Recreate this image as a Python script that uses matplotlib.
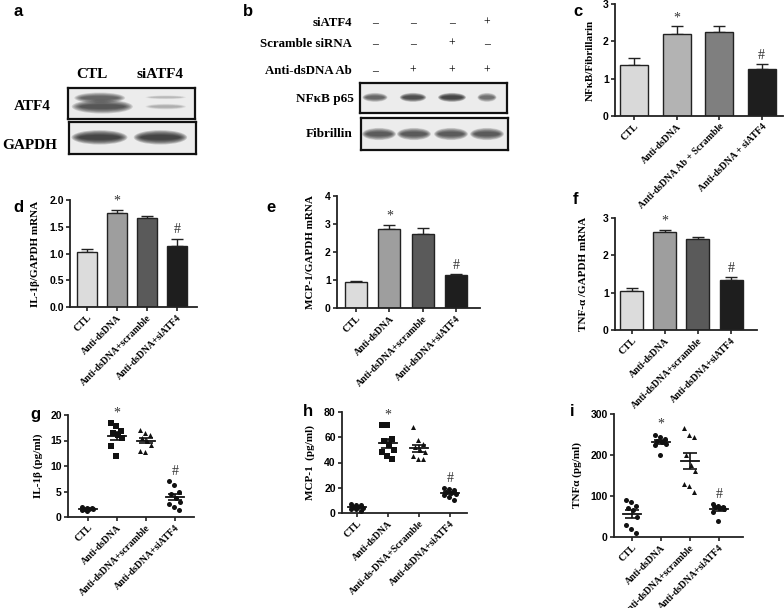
import numpy as np
import matplotlib
matplotlib.use("Agg")
import matplotlib.pyplot as plt
from matplotlib.patches import Ellipse

W, H = 784, 608

# ---- data ----
groups_c = ["CTL", "Anti-dsDNA", "Anti-dsDNA Ab + Scramble", "Anti-dsDNA + siATF4"]
groups = ["CTL", "Anti-dsDNA", "Anti-dsDNA+scramble", "Anti-dsDNA+siATF4"]
groups_h = ["CTL", "Anti-dsDNA", "Anti-ds-DNA+Scramble", "Anti-dsDNA+siATF4"]

nfkb_mean = [1.37, 2.20, 2.25, 1.25]
nfkb_err = [0.19, 0.20, 0.17, 0.14]
il1b_mrna = [1.02, 1.75, 1.66, 1.14]
il1b_mrna_err = [0.07, 0.06, 0.05, 0.14]
mcp1_mrna = [0.93, 2.82, 2.65, 1.18]
mcp1_mrna_err = [0.02, 0.15, 0.20, 0.04]
tnf_mrna = [1.05, 2.62, 2.43, 1.34]
tnf_mrna_err = [0.07, 0.07, 0.06, 0.08]

il1b_ctl = [1.9, 1.8, 1.7, 1.6, 1.6, 1.5, 1.4, 1.2]
il1b_anti = [18.5, 17.8, 16.8, 16.5, 16.0, 15.5, 14.0, 12.0]
il1b_scr = [17.0, 16.5, 16.0, 15.5, 15.0, 14.2, 12.9, 12.8]
il1b_si = [7.0, 6.3, 5.0, 4.5, 3.8, 3.0, 2.6, 2.0, 1.3]

mcp1_ctl = [7.0, 6.5, 6.0, 5.0, 4.5, 4.0, 3.5, 3.0, 1.5]
mcp1_anti = [70, 70, 59, 57, 54, 50, 48, 45, 43]
mcp1_scr = [68, 58, 55, 52, 50, 48, 45, 43, 43]
mcp1_si = [20, 19, 18, 17, 16, 15, 14, 13, 10]

tnf_ctl = [90, 85, 75, 70, 65, 50, 30, 20, 10]
tnf_anti = [250, 245, 240, 235, 232, 228, 225, 200]
tnf_scr = [265, 250, 245, 200, 175, 160, 130, 125, 110]
tnf_si = [80, 76, 74, 72, 70, 68, 62, 40]

# blot band intensities (0..1), one entry per band
atf4_band = [0.75, 0.6, 0.22, 0.18]
gapdh_band = [0.9, 0.9]
nfkb_band = [0.6, 0.8, 0.9, 0.55]
fibrillin_band = [0.7, 0.7, 0.7, 0.7]

bar_cols_c = ["#d9d9d9", "#b3b3b3", "#7f7f7f", "#1e1e1e"]
bar_cols = ["#dcdcdc", "#9e9e9e", "#5a5a5a", "#1e1e1e"]

serif = "Liberation Serif"
sans = "Liberation Sans"

fig = plt.figure(figsize=(W / 100, H / 100), dpi=100)


def ax_px(x0, y0, x1, y1):
    return fig.add_axes([x0 / W, 1 - y1 / H, (x1 - x0) / W, (y1 - y0) / H])


def ftext(x, y, s, **kw):
    fig.text(x / W, 1 - y / H, s, **kw)


def letter(x, y, s):
    ftext(x, y, s, fontsize=12, fontweight="bold", family=sans, va="center", ha="left")


def style(ax, xlim, ylim, yticks, labels, ylabel, ylab_x, ax_left, ax_w, yfmt=None):
    for s in ["top", "right"]:
        ax.spines[s].set_visible(False)
    for s in ["left", "bottom"]:
        ax.spines[s].set_linewidth(1.3)
        ax.spines[s].set_color("#222222")
    ax.set_xlim(*xlim)
    ax.set_ylim(*ylim)
    ax.set_yticks(yticks)
    if yfmt:
        ax.set_yticklabels([yfmt % v for v in yticks])
    ax.set_xticks(range(len(labels)))
    ax.set_xticklabels(labels, rotation=45, ha="right", rotation_mode="anchor",
                       family=serif, fontweight="bold", fontsize=7)
    ax.tick_params(axis="both", length=3, width=1.2, pad=1.5, color="#222222")
    for t in ax.get_yticklabels():
        t.set_family(sans)
        t.set_fontweight("bold")
        t.set_fontsize(7.5)
    ax.set_ylabel(ylabel, family=serif, fontweight="bold", fontsize=8)
    ax.yaxis.set_label_coords((ylab_x - ax_left) / ax_w, 0.5)


def bar_panel(box, xlim, ylim, yticks, vals, errs, cols, labels, ylabel, ylab_x, yfmt=None, width=0.67):
    ax = ax_px(*box)
    x = np.arange(len(vals))
    ax.bar(x, vals, width=width, color=cols, edgecolor="#222222", linewidth=1.0, zorder=2)
    ax.errorbar(x, vals, yerr=[np.zeros(len(vals)), errs], fmt="none", ecolor="#222222",
                elinewidth=1.0, capsize=4, capthick=1.0, zorder=1)
    style(ax, xlim, ylim, yticks, labels, ylabel, ylab_x, box[0], box[2] - box[0], yfmt)
    top = np.array(vals) + np.array(errs)
    pad = (ylim[1] - ylim[0]) * 0.02
    ax.text(1, top[1] + pad, "*", ha="center", va="bottom", family=serif, fontsize=10, color="#333333")
    ax.text(3, top[3] + pad, "#", ha="center", va="bottom", family=serif, fontsize=10, color="#333333")
    return ax


def spread(n):
    return ((np.arange(n) % 3) - 1) * 0.16 + ((np.arange(n) // 3) % 2) * 0.06 - 0.03


def dot_panel(box, xlim, ylim, yticks, sets, markers, labels, ylabel, ylab_x):
    ax = ax_px(*box)
    tops = []
    for i, (pts, m) in enumerate(zip(sets, markers)):
        pts = np.array(pts, dtype=float)
        ax.scatter(i + spread(len(pts)), pts, marker=m, s=13, color="#111111", zorder=3, linewidths=0)
        mean = pts.mean()
        sem = pts.std(ddof=1) / np.sqrt(len(pts))
        ax.plot([i - 0.3, i + 0.3], [mean, mean], color="#111111", lw=1.3, zorder=4)
        ax.errorbar([i], [mean], yerr=[[sem], [sem]], fmt="none", ecolor="#111111",
                    elinewidth=1.2, capsize=5, capthick=1.2, zorder=4)
        tops.append(pts.max())
    style(ax, xlim, ylim, yticks, labels, ylabel, ylab_x, box[0], box[2] - box[0])
    pad = (ylim[1] - ylim[0]) * 0.03
    ax.text(1, tops[1] + pad, "*", ha="center", va="bottom", family=serif, fontsize=10, color="#333333")
    ax.text(3, tops[3] + pad, "#", ha="center", va="bottom", family=serif, fontsize=10, color="#333333")
    return ax


def blot(box, xs, ys, intens, widths, heights):
    ax = ax_px(*box)
    ax.set_xlim(0, 1)
    ax.set_ylim(0, 1)
    ax.set_xticks([])
    ax.set_yticks([])
    ax.set_facecolor("#ececec")
    for s in ax.spines.values():
        s.set_linewidth(1.6)
        s.set_color("#111111")
    for xc, yc, a, w, h in zip(xs, ys, intens, widths, heights):
        for k in range(7):
            f = 1 - k * 0.11
            ax.add_patch(Ellipse((xc, yc), w * (0.6 + 0.4 * f), h * f, color="#111111",
                                 alpha=a * 0.2, lw=0))
    return ax


# ---- panel a ----
letter(13, 12, "a")
ftext(92, 75, "CTL", family=serif, fontweight="bold", fontsize=11, ha="center", va="center")
ftext(160, 75, "siATF4", family=serif, fontweight="bold", fontsize=11, ha="center", va="center")
ftext(32, 107, "ATF4", family=serif, fontweight="bold", fontsize=11, ha="center", va="center")
ftext(30, 146, "GAPDH", family=serif, fontweight="bold", fontsize=11, ha="center", va="center")
blot((68, 88, 195, 119), [0.27, 0.25, 0.77, 0.77], [0.4, 0.68, 0.4, 0.7],
     atf4_band, [0.48, 0.4, 0.32, 0.32], [0.45, 0.35, 0.18, 0.12])
blot((69, 122, 196, 154), [0.24, 0.72], [0.52, 0.52], gapdh_band, [0.44, 0.42], [0.45, 0.45])

# ---- panel b ----
letter(243, 12, "b")
lane_x = [375, 413, 452, 487]
rows = [("siATF4", 23, ["–", "–", "–", "+"]),
        ("Scramble siRNA", 44, ["–", "–", "+", "–"]),
        ("Anti-dsDNA Ab", 71, ["–", "+", "+", "+"])]
for name, y, signs in rows:
    ftext(352, y, name, family=serif, fontweight="bold", fontsize=9.3, ha="right", va="center")
    for lx, s in zip(lane_x, signs):
        ftext(lx, y, s, family=serif, fontsize=8.5, ha="center", va="center")
ftext(354, 99, "NFκB p65", family=serif, fontweight="bold", fontsize=9.5, ha="right", va="center")
ftext(352, 134, "Fibrillin", family=serif, fontweight="bold", fontsize=9.5, ha="right", va="center")
bx = [(lx - 360) / 147 for lx in lane_x]
blot((360, 83, 507, 113), bx, [0.52] * 4, nfkb_band, [0.17, 0.18, 0.19, 0.13], [0.3] * 4)
fx = [(lx - 361) / 147 for lx in [379, 414, 451, 487]]
blot((361, 118, 508, 150), fx, [0.5] * 4, fibrillin_band, [0.23] * 4, [0.38] * 4)

# ---- bar panels ----
letter(573, 12, "c")
bar_panel((615, 4, 783, 116), (-0.447, 3.5), (0, 3), [0, 1, 2, 3], nfkb_mean, nfkb_err,
          bar_cols_c, groups_c, "NFκB/Fibrillarin", 595, width=0.66)

letter(13, 207, "d")
bar_panel((70, 200, 197, 307), (-0.57, 3.67), (0, 2), [0, 0.5, 1.0, 1.5, 2.0], il1b_mrna, il1b_mrna_err,
          bar_cols, groups, "IL-1β/GAPDH mRNA", 40, yfmt="%.1f")

letter(266, 207, "e")
bar_panel((337, 196, 480, 308), (-0.57, 3.72), (0, 4), [0, 1, 2, 3, 4], mcp1_mrna, mcp1_mrna_err,
          bar_cols, groups, "MCP-1/GAPDH mRNA", 315, width=0.66)

letter(573, 200, "f")
bar_panel((615, 218, 757, 330), (-0.5, 3.78), (0, 3), [0, 1, 2, 3], tnf_mrna, tnf_mrna_err,
          bar_cols, groups, "TNF-α /GAPDH mRNA", 588, width=0.69)

# ---- dot panels ----
letter(30, 415, "g")
dot_panel((68, 415, 194, 517), (-0.69, 3.66), (0, 20), [0, 5, 10, 15, 20],
          [il1b_ctl, il1b_anti, il1b_scr, il1b_si], ["o", "s", "^", "o"], groups, "IL-1β (pg/ml)", 43)

letter(303, 412, "h")
dot_panel((342, 412, 467, 513), (-0.48, 3.55), (0, 80), [0, 20, 40, 60, 80],
          [mcp1_ctl, mcp1_anti, mcp1_scr, mcp1_si], ["o", "s", "^", "o"], groups_h, "MCP-1  (pg/ml)", 315)

letter(570, 412, "i")
dot_panel((614, 414, 743, 537), (-0.62, 3.83), (0, 300), [0, 100, 200, 300],
          [tnf_ctl, tnf_anti, tnf_scr, tnf_si], ["o", "o", "^", "o"], groups, "TNFα (pg/ml)", 582)

fig.savefig("out.png", dpi=100)
